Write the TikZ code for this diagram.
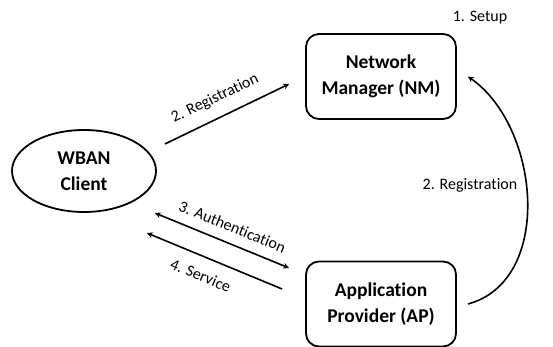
\documentclass[tikz,border=0pt]{standalone}
\usepackage{fontspec}
\setmainfont{Carlito}[Ligatures=NoCommon]
\usetikzlibrary{positioning}
\usetikzlibrary{shapes.geometric}
\usepackage{xcolor}

\begin{document}
\begin{tikzpicture}[x=1pt, y=1pt,
		boxnode/.style={rectangle, draw, rounded corners=13pt, line width=1.8pt, minimum width=150pt, minimum height=85pt, align=center, font=\bfseries\fontsize{19.5}{26}\selectfont},
		clientnode/.style={ellipse, draw, line width=1.8pt, minimum width=144pt, minimum height=82pt, align=center, font=\bfseries\fontsize{19.5}{26}\selectfont},
		steplabel/.style={font=\fontsize{16}{19}\selectfont},
		flow/.style={line width=1.6pt},
		]
		\useasboundingbox (0,0) rectangle (553,347);
		%Nodes
		\node[clientnode]  (wban)   at (84,176)    {WBAN\\Client};
		\node[boxnode]     (nm)     at (381,270.5) {Network\\Manager (NM)};
		\node[boxnode]     (ap)     at (381,43)    {Application\\Provider (AP)};
		\node[steplabel]   (setup)  at (480,329)   {1. Setup};
		\node[steplabel]   (ap-reg) at (470,162)   {2. Registration};
		
		% Arrow ends
		\coordinate (reg-start)  at ([shift={(8,27)}]wban.east);
		\coordinate (reg-end)    at ([shift={(-16,-7.5)}]nm.west);
		\coordinate (auth-start) at ([shift={(-2,-42)}]wban.east);
		\coordinate (auth-end)   at ([shift={(-16,36)}]ap.west);
		\coordinate (serv-start) at ([shift={(-23,15)}]ap.west);
		\coordinate (serv-end)   at ([shift={(-10,-62)}]wban.east);
		
		%Lines
		\draw[flow, -stealth] (reg-start) -- node[steplabel, sloped, above=8pt, pos=0.47] {2. Registration} (reg-end);
		\draw[flow, stealth-stealth] (auth-start) -- node[steplabel, sloped, above=7pt, pos=0.53] {3. Authentication} (auth-end);
		\draw[flow, -stealth] (serv-start) -- node[steplabel, sloped, below=9pt, pos=0.55] {4. Service} (serv-end);
		\draw[flow, -stealth] ([xshift=11]ap.east) to[out=15, in=-35] ([xshift=11]nm.east);
		
	\end{tikzpicture}
\end{document}
